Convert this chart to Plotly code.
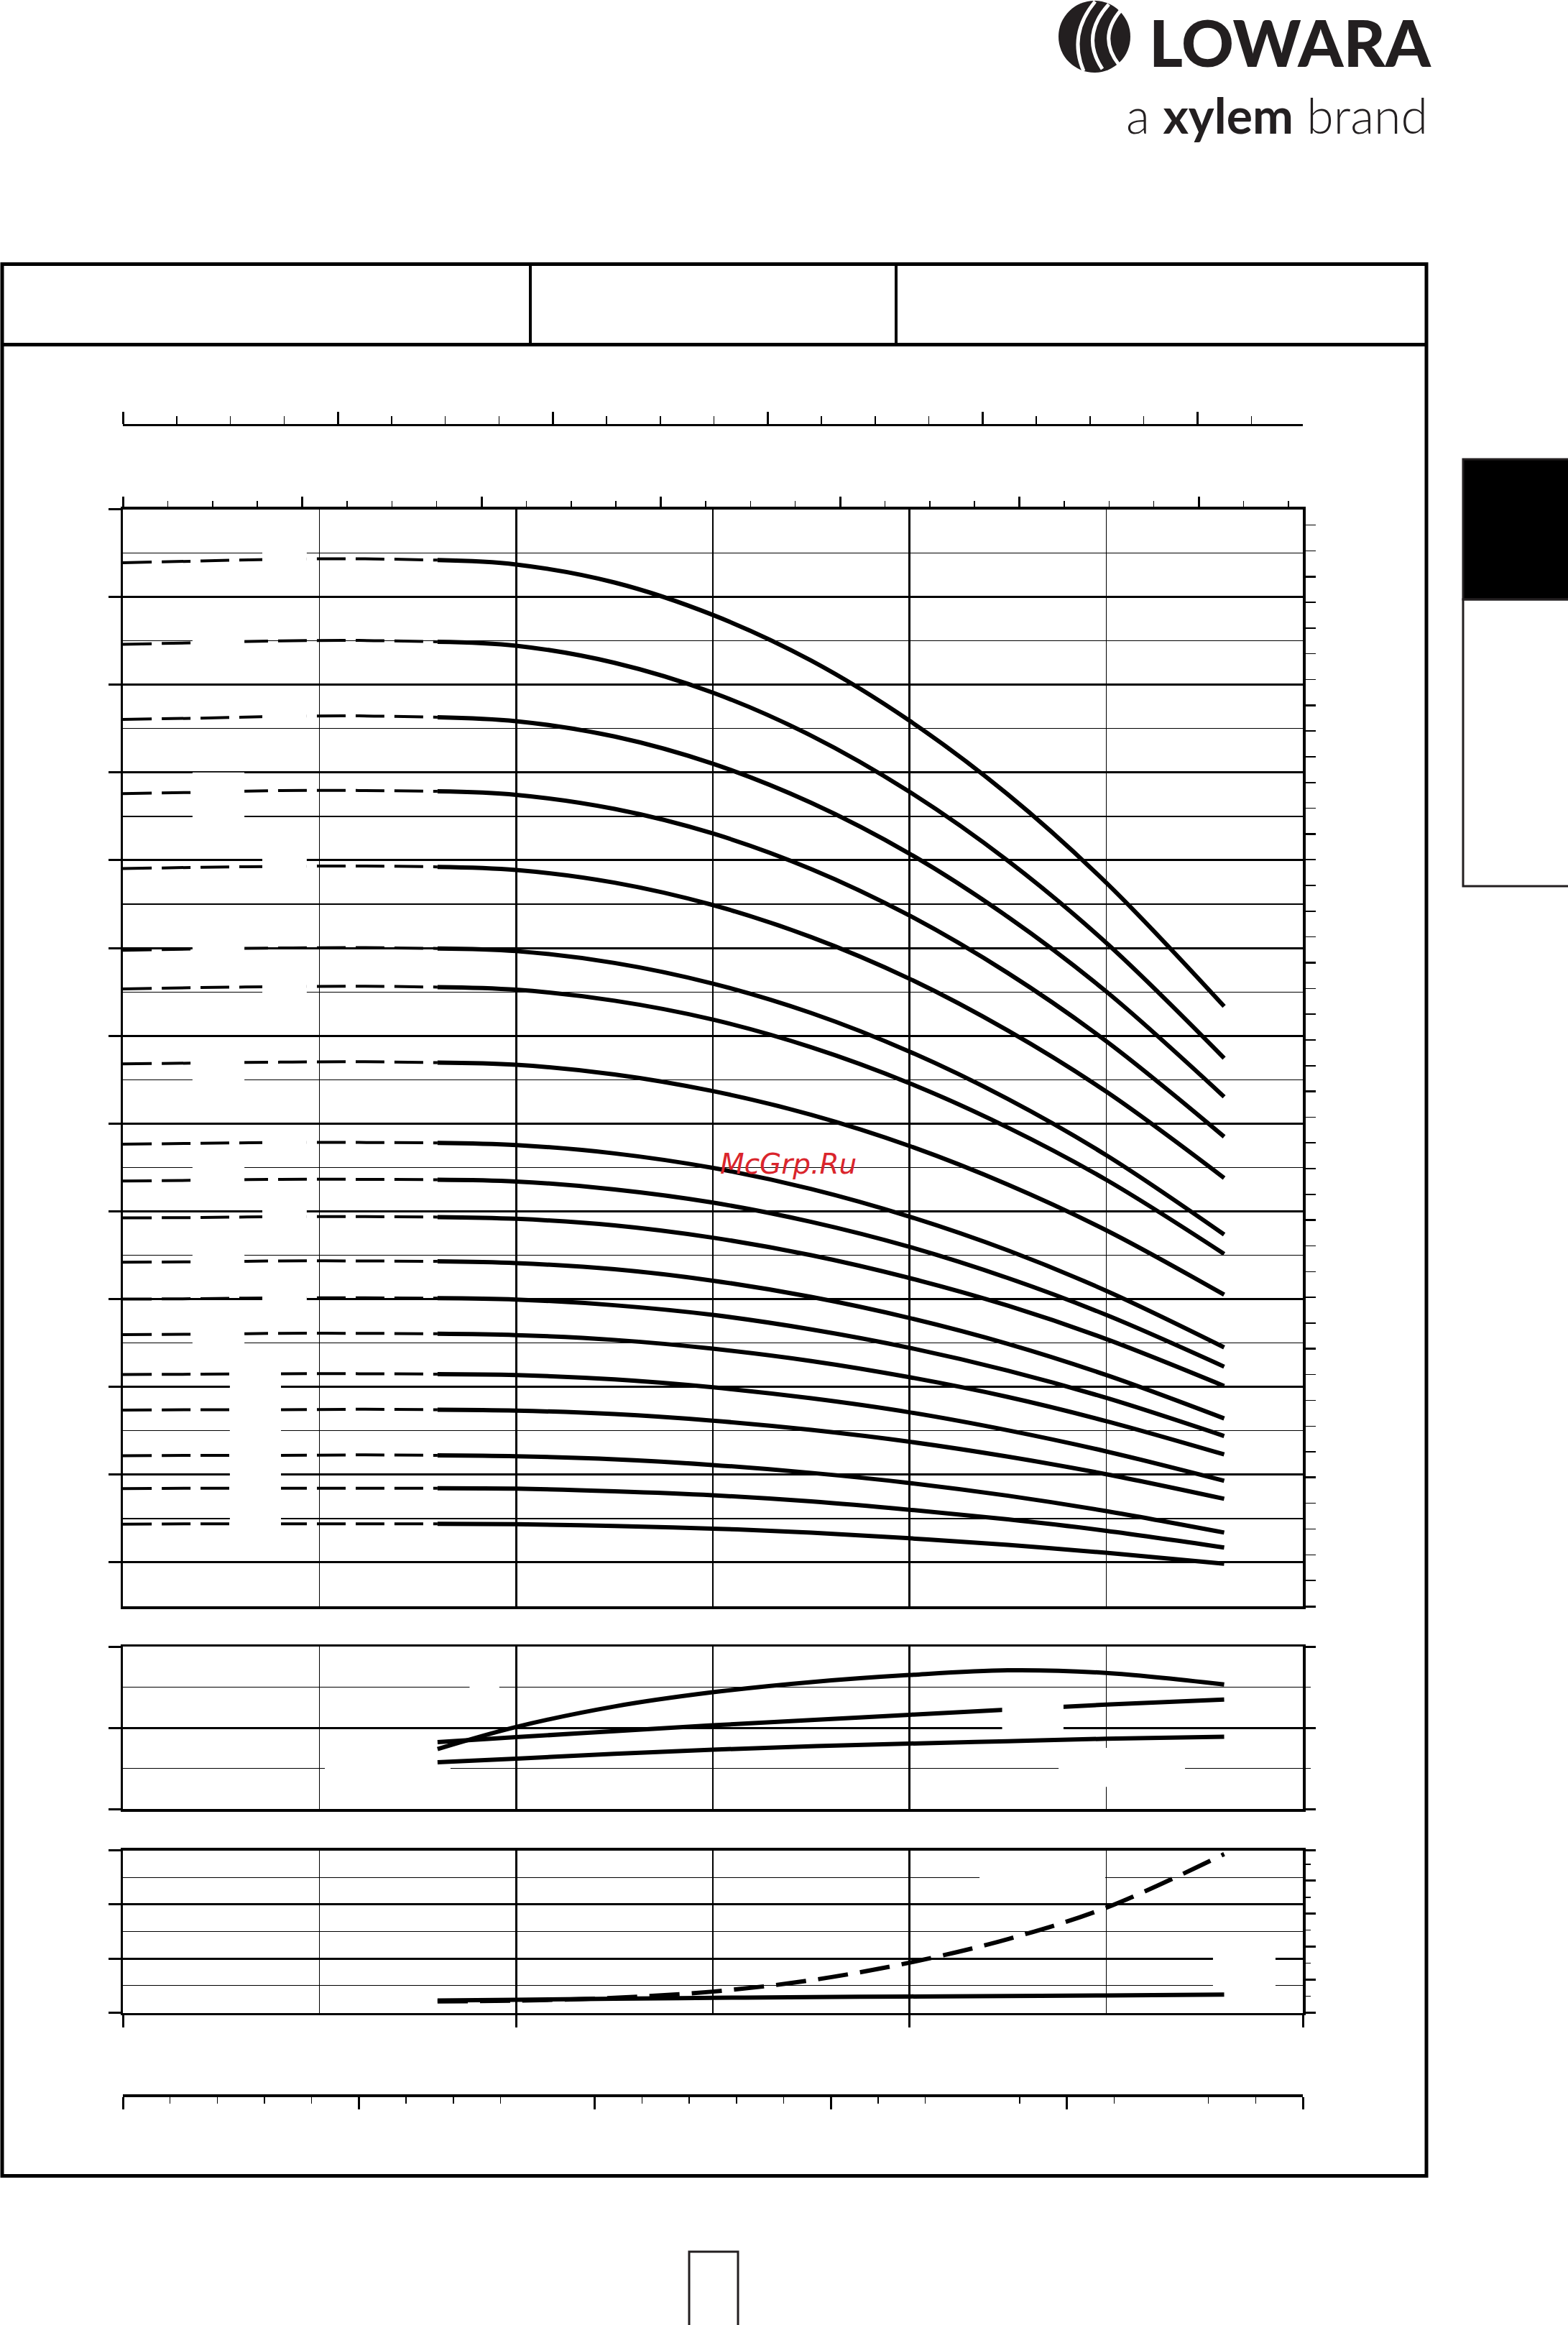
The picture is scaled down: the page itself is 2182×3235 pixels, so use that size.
import plotly.graph_objects as go

# ------------------------------------------------------------------ data
# flow axis of the head chart (m3/h) – curves are dashed up to 1.6, solid after
Q_H = [0, 0.4, 0.8, 1.2, 1.6, 2.0, 2.5, 3.0, 3.5, 4.0, 4.5, 5.0, 5.6]
h01 = [237.8, 238.2, 238.6, 238.7, 238.4, 237.4, 233.3, 225.9, 215.5, 201.8, 185.0, 164.9, 136.7]
h02 = [219.2, 219.6, 220.0, 220.1, 219.8, 218.9, 215.0, 208.2, 198.4, 185.6, 169.9, 151.2, 124.9]
h03 = [202.1, 202.4, 202.8, 202.9, 202.6, 201.7, 198.2, 192.0, 183.1, 171.5, 157.1, 140.1, 116.1]
h04 = [185.2, 185.5, 185.9, 185.9, 185.7, 184.9, 181.7, 176.1, 168.0, 157.4, 144.3, 128.8, 107.0]
h05 = [168.1, 168.4, 168.6, 168.7, 168.5, 167.8, 164.9, 159.8, 152.5, 143.0, 131.2, 117.3, 97.6]
h06 = [149.5, 149.8, 150.0, 150.1, 149.9, 149.3, 146.6, 141.9, 135.2, 126.4, 115.6, 102.8, 84.7]
h07 = [140.7, 141.0, 141.2, 141.3, 141.1, 140.5, 138.0, 133.7, 127.4, 119.2, 109.1, 97.2, 80.3]
h08 = [123.6, 123.8, 124.0, 124.1, 123.9, 123.4, 121.2, 117.4, 112.0, 104.9, 96.1, 85.7, 71.0]
h09 = [105.3, 105.5, 105.7, 105.7, 105.6, 105.1, 103.2, 99.9, 95.1, 88.8, 81.1, 71.9, 59.0]
h10 = [96.9, 97.1, 97.3, 97.3, 97.2, 96.8, 95.0, 92.0, 87.6, 81.9, 74.8, 66.4, 54.6]
h11 = [88.5, 88.6, 88.8, 88.8, 88.7, 88.3, 86.8, 84.0, 80.0, 74.8, 68.5, 60.9, 50.2]
h12 = [78.4, 78.5, 78.7, 78.7, 78.6, 78.2, 76.8, 74.2, 70.5, 65.7, 59.8, 52.7, 42.8]
h13 = [70.0, 70.1, 70.3, 70.3, 70.2, 69.9, 68.6, 66.4, 63.1, 58.9, 53.7, 47.5, 38.8]
h14 = [61.9, 62.0, 62.2, 62.2, 62.1, 61.8, 60.7, 58.7, 55.9, 52.2, 47.7, 42.2, 34.6]
h15 = [52.8, 52.9, 53.0, 53.0, 52.9, 52.7, 51.7, 49.9, 47.4, 44.2, 40.1, 35.3, 28.6]
h16 = [44.7, 44.8, 44.8, 44.9, 44.8, 44.6, 43.8, 42.3, 40.2, 37.5, 34.1, 30.1, 24.5]
h17 = [34.3, 34.4, 34.4, 34.5, 34.4, 34.2, 33.5, 32.2, 30.4, 28.1, 25.2, 21.7, 16.8]
h18 = [26.8, 26.9, 26.9, 26.9, 26.9, 26.8, 26.2, 25.3, 23.9, 22.0, 19.8, 17.2, 13.4]
h19 = [18.7, 18.8, 18.8, 18.8, 18.8, 18.7, 18.3, 17.7, 16.8, 15.5, 14.0, 12.2, 9.7]
head_curves = [h01, h02, h03, h04, h05, h06, h07, h08, h09, h10,
               h11, h12, h13, h14, h15, h16, h17, h18, h19]
SPLIT = 4  # index of Q = 1.6 (start of the solid part)

# efficiency panel
Q_P = [1.6, 2.0, 2.5, 3.0, 3.5, 4.0, 4.5, 5.0, 5.6]
eff_a = [29.5, 40.4, 50.5, 57.5, 62.5, 66.0, 68.3, 67.0, 61.3]
eff_b = [32.9, 35.4, 38.3, 41.2, 43.8, 46.4, 48.9, 51.4, 53.9]
eff_c = [23.0, 24.8, 27.2, 29.2, 30.9, 32.2, 33.4, 34.6, 35.6]
# power / NPSH panel
npsh = [0.42, 0.45, 0.55, 0.78, 1.20, 1.85, 2.72, 3.88, 5.86]
power = [0.45, 0.48, 0.52, 0.55, 0.58, 0.60, 0.62, 0.64, 0.67]

# ------------------------------------------------------------------ geometry (px)
W, H = 2182, 3235
X_L, X_R = 171, 1813
MAIN_T, MAIN_B = 708.5, 2235
P2_T, P2_B = 2291, 2517
P3_T, P3_B = 2574.5, 2800.5
TOP1_Y = 593
BOT_Y = 2914


def xp(px):
    return px / W


def yp(py):
    return 1 - py / H


XD = [xp(X_L), xp(X_R)]
BLK = '#000000'
INK = '#231f20'
THICK, THIN, BORDER = 3, 1.3, 3.5

fig = go.Figure()


def line_trace(x, y, xa, ya, width, dash=None):
    fig.add_trace(go.Scatter(
        x=x, y=y, mode='lines', xaxis=xa, yaxis=ya,
        line=dict(color=BLK, width=width, dash=dash, shape='spline', smoothing=1.0),
        showlegend=False, hoverinfo='skip'))


def dummy(xa, ya):
    fig.add_trace(go.Scatter(x=[None], y=[None], xaxis=xa, yaxis=ya,
                             showlegend=False, hoverinfo='skip'))


# head curves
for h in head_curves:
    line_trace(Q_H[:SPLIT + 1], h[:SPLIT + 1], 'x', 'y', 4, '40px,14px')
    line_trace(Q_H[SPLIT:], h[SPLIT:], 'x', 'y', 6)

# efficiency
line_trace(Q_P, eff_a, 'x5', 'y5', 6)
line_trace(Q_P, eff_b, 'x5', 'y5', 6)
line_trace(Q_P, eff_c, 'x5', 'y5', 6)
# power & npsh
line_trace(Q_P, npsh, 'x7', 'y7', 6, '42px,17px')
line_trace(Q_P, power, 'x7', 'y7', 6)

for xa, ya in [('x2', 'y'), ('x', 'y2'), ('x3', 'y3'), ('x4', 'y4'), ('x5', 'y6'), ('x7', 'y8')]:
    dummy(xa, ya)


def ax(**kw):
    d = dict(showticklabels=False, zeroline=False, showgrid=False, fixedrange=True,
             ticks='', linecolor=BLK, tickcolor=BLK, gridcolor=BLK, showline=False)
    d.update(kw)
    return d


def grid_minor(vals):
    return dict(tickvals=vals, showgrid=True, gridcolor=BLK, gridwidth=THIN, ticks='')


def tick_minor(vals, length, width=1.5):
    return dict(tickvals=vals, showgrid=False, ticks='outside', ticklen=length,
                tickwidth=width, tickcolor=BLK)


# axis ranges chosen so ticks land on the drawing's scales
R_TOP2 = (X_R - X_L) / 249.5
R_TOP1 = (X_R - X_L) / 299.1 * 5
R_FT = (MAIN_B - MAIN_T) / 35.82 * 20
R_P3R = (P3_B - P3_T) / 22.96

layout = dict(
    width=W, height=H, autosize=False,
    margin=dict(l=0, r=0, t=0, b=0, pad=0),
    paper_bgcolor='white', plot_bgcolor='rgba(0,0,0,0)',
    showlegend=False,
    # ---- main head chart
    xaxis=ax(domain=XD, anchor='y', range=[0, 6], showline=True, mirror=True,
             linewidth=BORDER, tickvals=[0, 2, 4, 6], showgrid=True, gridwidth=THICK,
             minor=grid_minor([1, 3, 5])),
    yaxis=ax(domain=[yp(MAIN_B), yp(MAIN_T)], anchor='x', range=[0, 250], showline=True,
             mirror=True, linewidth=BORDER, tickvals=list(range(10, 251, 20)),
             ticks='outside', ticklen=17, tickwidth=THICK, showgrid=True, gridwidth=THICK,
             minor=grid_minor(list(range(20, 241, 20)))),
    xaxis2=ax(overlaying='x', anchor='y', side='top', range=[0, R_TOP2],
              tickvals=list(range(0, 7)), ticks='outside', ticklen=17, tickwidth=THICK,
              minor=tick_minor([k * 0.25 for k in range(0, 27) if k % 4], 11)),
    yaxis2=ax(overlaying='y', anchor='x', side='right', range=[0, R_FT],
              tickvals=list(range(0, 801, 100)), ticks='outside', ticklen=17, tickwidth=THICK,
              minor=tick_minor([v for v in range(20, 852, 20) if v % 100], 17)),
    # ---- upper separate scale
    xaxis3=ax(domain=XD, anchor='y3', side='top', range=[0, R_TOP1], showline=True,
              linewidth=3.3, tickvals=list(range(0, 26, 5)), ticks='outside', ticklen=17,
              tickwidth=THICK,
              minor=tick_minor([k * 1.25 for k in range(0, 22) if k % 4], 11)),
    yaxis3=ax(domain=[yp(TOP1_Y + 7), yp(TOP1_Y)], anchor='x3', range=[0, 1], visible=False),
    # ---- lower separate scale
    xaxis4=ax(domain=XD, anchor='y4', side='bottom', range=[0, 100], showline=True,
              linewidth=4, tickvals=list(range(0, 101, 20)), ticks='outside', ticklen=17,
              tickwidth=THICK,
              minor=tick_minor([4, 8, 12, 16, 24, 28, 32, 44, 48, 52, 56, 64, 68, 76,
                                84, 92, 96], 9)),
    yaxis4=ax(domain=[yp(BOT_Y), yp(BOT_Y - 7)], anchor='x4', range=[0, 1], visible=False),
    # ---- efficiency panel
    xaxis5=ax(domain=XD, anchor='y5', range=[0, 6], showline=True, mirror=True,
              linewidth=BORDER, tickvals=[0, 2, 4, 6], showgrid=True, gridwidth=THICK,
              minor=grid_minor([1, 3, 5])),
    yaxis5=ax(domain=[yp(P2_B), yp(P2_T)], anchor='x5', range=[0, 80], showline=True,
              mirror=True, linewidth=BORDER, tickvals=[0, 40, 80], ticks='outside',
              ticklen=17, tickwidth=THICK, showgrid=True, gridwidth=THICK,
              minor=grid_minor([20, 60])),
    yaxis6=ax(overlaying='y5', anchor='x5', side='right', range=[0, 80],
              tickvals=[0, 40, 80], ticks='outside', ticklen=17, tickwidth=THICK,
              minor=tick_minor([20, 60], 10)),
    # ---- power / NPSH panel
    xaxis7=ax(domain=XD, anchor='y7', range=[0, 6], showline=True, mirror=True,
              linewidth=BORDER, tickvals=[0, 2, 4, 6], ticks='outside', ticklen=17,
              tickwidth=THICK, showgrid=True, gridwidth=THICK, minor=grid_minor([1, 3, 5])),
    yaxis7=ax(domain=[yp(P3_B), yp(P3_T)], anchor='x7', range=[0, 6], showline=True,
              mirror=True, linewidth=BORDER, tickvals=[0, 2, 4, 6], ticks='outside',
              ticklen=17, tickwidth=THICK, showgrid=True, gridwidth=THICK,
              minor=grid_minor([1, 3, 5])),
    yaxis8=ax(overlaying='y7', anchor='x7', side='right', range=[0, R_P3R],
              tickvals=[0, 2, 4, 6, 8, R_P3R], ticks='outside', ticklen=17, tickwidth=THICK,
              minor=tick_minor([1, 3, 5, 7, 9], 10)),
)
fig.update_layout(**layout)

shapes = []


def prect(x0, y0, x1, y1, lw, color=INK, fill=None):
    shapes.append(dict(type='rect', xref='paper', yref='paper',
                       x0=xp(x0), x1=xp(x1), y0=yp(y1), y1=yp(y0),
                       line=dict(color=color, width=lw), fillcolor=fill or 'rgba(0,0,0,0)',
                       layer='above'))


def pline(x0, y0, x1, y1, lw, color=BLK):
    shapes.append(dict(type='line', xref='paper', yref='paper',
                       x0=xp(x0), x1=xp(x1), y0=yp(y0), y1=yp(y1),
                       line=dict(color=color, width=lw), layer='above'))


# page frame and header
prect(3, 367.5, 1985, 3027.5, 5, BLK)
pline(3, 479.5, 1985, 479.5, 5)
pline(738, 367.5, 738, 479.5, 4)
pline(1247, 367.5, 1247, 479.5, 4)
# right side tab
prect(2036, 639, 2192, 834, 3, INK, '#000000')
prect(2036, 834, 2192, 1233, 3, INK)
# page number box
prect(959, 3133, 1027, 3250, 3, INK)


# label masks (white boxes where labels sit)
def mask(xa, ya, x0, x1, y0, y1):
    shapes.append(dict(type='rect', xref=xa, yref=ya, x0=x0, x1=x1, y0=y0, y1=y1,
                       fillcolor='white', line=dict(width=0), layer='above'))


C1, C2, C3 = (0.354, 0.618), (0.709, 0.935), (0.544, 0.804)
for c, lo, hi in [(C2, 235, 244), (C1, 216, 224), (C2, 200.8, 206), (C1, 177, 190),
                  (C2, 165, 172), (C1, 146, 154), (C2, 137, 145), (C1, 117, 128),
                  (C2, 102, 109), (C1, 94, 102), (C2, 85, 93), (C1, 75, 82),
                  (C2, 67, 73.5), (C1, 58.5, 65), (C3, 15.5, 56)]:
    mask('x', 'y', c[0], c[1], lo, hi)
mask('x5', 'y5', 1.763, 1.914, 56, 64)
mask('x5', 'y5', 4.471, 4.783, 37.5, 53.5)
mask('x5', 'y5', 1.027, 1.666, 15, 20.7)
mask('x5', 'y5', 4.758, 5.401, 10.9, 30.1)
mask('x7', 'y7', 4.356, 4.995, 4.5, 5.6)
mask('x7', 'y7', 5.543, 5.861, 0.85, 2.3)

# logo emblem
shapes.append(dict(type='circle', xref='paper', yref='paper',
                   x0=xp(1473), x1=xp(1573), y0=yp(101), y1=yp(1),
                   fillcolor=INK, line=dict(color=INK, width=0), layer='above'))


def ppath(pts, lw, color='white'):
    (ax0, ay0), (cx, cy), (bx, by) = pts
    path = 'M {:.6f},{:.6f} Q {:.6f},{:.6f} {:.6f},{:.6f}'.format(
        xp(ax0), yp(ay0), xp(cx), yp(cy), xp(bx), yp(by))
    shapes.append(dict(type='path', xref='paper', yref='paper', path=path,
                       line=dict(color=color, width=lw), layer='above'))


ppath([(1524, 2), (1486, 48), (1508, 99)], 5)
ppath([(1543, 6), (1503, 50), (1534, 96)], 5)
ppath([(1560, 14), (1527, 52), (1557, 90)], 5)

fig.update_layout(shapes=shapes)

fig.update_layout(annotations=[
    dict(xref='paper', yref='paper', x=xp(1597), y=yp(2), xanchor='left', yanchor='top',
         text='LOWARA', showarrow=False,
         font=dict(family='Lato', size=90, color=INK, weight=900)),
    dict(xref='paper', yref='paper', x=xp(1565), y=yp(160), xanchor='left', yanchor='middle',
         text='a <b>xylem</b> brand', showarrow=False,
         font=dict(family='Lato', size=68, color=INK, weight=300)),
    dict(xref='paper', yref='paper', x=xp(1097), y=yp(1619), xanchor='center',
         yanchor='middle', text='McGrp.Ru', showarrow=False,
         font=dict(family='DejaVu Sans', size=39, color='#da252c', style='italic')),
])

fig.write_html("out.html", include_plotlyjs=True, full_html=True,
               config={'displayModeBar': False, 'staticPlot': True},
               post_script="document.body.style.margin='0px';")
